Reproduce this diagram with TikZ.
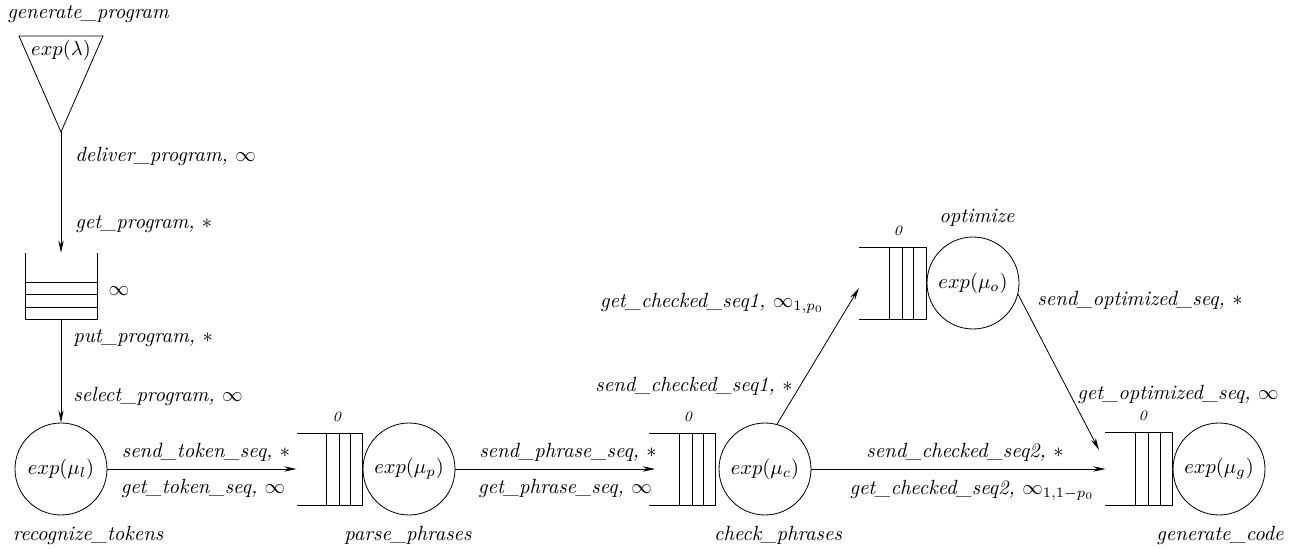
\documentclass[tikz,border=0pt]{standalone}
\usetikzlibrary{arrows.meta,calc}
\begin{document}
\begin{tikzpicture}[x=0.487pt,y=-0.487pt,line width=0.4pt,
  station/.style={circle,draw,minimum size=44.8pt,inner sep=0pt},
  qbox/.style={rectangle,inner sep=0pt,minimum width=31.7pt,minimum height=35pt},
  vqbox/.style={rectangle,inner sep=0pt,minimum width=35pt,minimum height=32pt},
  lbl/.style={inner sep=1pt,font=\itshape},
  zero/.style={inner sep=0pt,font=\scriptsize\itshape},
  conn/.style={-{Stealth[length=6pt,width=2.6pt]}}]
\useasboundingbox (0,0) rectangle (1296,549);

% source triangle
\draw (19,36) -- (103,36) -- (61,132) -- cycle;
\coordinate (src) at (61,132);
\node[inner sep=0pt] (srctxt) at (61,50) {$exp(\lambda)$};
\node[lbl] (gp) at (88,14) {generate\_program};

% vertical queue
\node[vqbox] (qv) at (61,286) {};
\draw (25,253) -- (25,319) -- (97,319) -- (97,253);
\draw (25,282) -- (97,282) (25,294) -- (97,294) (25,307) -- (97,307);
\node[inner sep=0pt] (qvinf) at (119,291) {$\infty$};

% stations
\node[station] (rt) at (61,469) {$exp(\mu_l)$};
\node[station] (pp) at (409,469) {$exp(\mu_p)$};
\node[station] (cc) at (765,469) {$exp(\mu_c)$};
\node[station] (co) at (973,283) {$exp(\mu_o)$};
\node[station] (cg) at (1219,469) {$exp(\mu_g)$};

% queues
\node[qbox] (qp) at (329.5,469) {};
\draw (297,433) -- (362,433) -- (362,505) -- (297,505);
\draw (326,433) -- (326,505) (339,433) -- (339,505) (350,433) -- (350,505);
\node[qbox] (qc) at (682,469) {};
\draw (649,433) -- (715,433) -- (715,505) -- (649,505);
\draw (679,433) -- (679,505) (692,433) -- (692,505) (703,433) -- (703,505);
\node[qbox] (qo) at (892.5,283) {};
\draw (859,247) -- (926,247) -- (926,319) -- (859,319);
\draw (889,247) -- (889,319) (902,247) -- (902,319) (913,247) -- (913,319);
\node[qbox] (qg) at (1138.5,469) {};
\draw (1105,432) -- (1172,432) -- (1172,505) -- (1105,505);
\draw (1135,432) -- (1135,505) (1148,432) -- (1148,505) (1160,432) -- (1160,505);

\node[zero] (z1) at (337,417) {0};
\node[zero] (z2) at (688,417) {0};
\node[zero] (z3) at (898,231) {0};
\node[zero] (z4) at (1143,416) {0};

% station names
\node[lbl] (n1) at (88,535) {recognize\_tokens};
\node[lbl] (n2) at (408,535) {parse\_phrases};
\node[lbl] (n3) at (778,535) {check\_phrases};
\node[lbl] (n4) at (977,218) {optimize};
\node[lbl] (n5) at (1220,535) {generate\_code};

% connectors
\coordinate (oin) at (859,288);
\coordinate (gin) at (1099,450);
\draw[conn] (src) -- (qv.north);
\draw[conn] (qv.south) -- (rt.north);
\draw[conn] (rt.east) -- (qp.west);
\draw[conn] (pp.east) -- ($(qc.west)+(6,0)$);
\draw[conn] (cc.east) -- (qg.west);
\draw[conn] (cc.75) -- (oin);
\draw[conn] (co.-14) -- (gin);

% connector labels
\node[lbl,anchor=west] (l1) at (73,156) {deliver\_program, $\infty$};
\node[lbl,anchor=west] (l2) at (73,224) {get\_program, $*$};
\node[lbl,anchor=west] (l3) at (71,338) {put\_program, $*$};
\node[lbl,anchor=west] (l4) at (71,396) {select\_program, $\infty$};
\node[lbl] (l5) at (206,452) {send\_token\_seq, $*$};
\node[lbl] (l6) at (203,488) {get\_token\_seq, $\infty$};
\node[lbl] (l7) at (568,452) {send\_phrase\_seq, $*$};
\node[lbl] (l8) at (565,488) {get\_phrase\_seq, $\infty$};
\node[lbl] (l9) at (965,452) {send\_checked\_seq2, $*$};
\node[lbl] (l10) at (972,490) {get\_checked\_seq2, $\infty_{1,1-p_0}$};
\node[lbl] (l11) at (712,303) {get\_checked\_seq1, $\infty_{1,p_0}$};
\node[lbl] (l12) at (694,386) {send\_checked\_seq1, $*$};
\node[lbl] (l13) at (1140,300) {send\_optimized\_seq, $*$};
\node[lbl] (l14) at (1178,394) {get\_optimized\_seq, $\infty$};
\end{tikzpicture}
\end{document}
